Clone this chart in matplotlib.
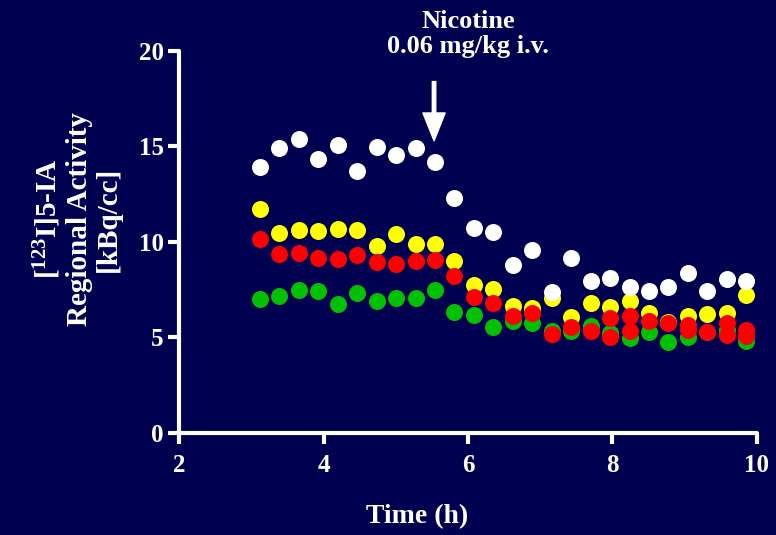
import numpy as np
import matplotlib.pyplot as plt

plt.rcParams['font.family'] = 'Liberation Serif'
plt.rcParams['font.weight'] = 'bold'
plt.rcParams['mathtext.fontset'] = 'custom'
plt.rcParams['mathtext.rm'] = 'Liberation Serif:bold'
plt.rcParams['mathtext.it'] = 'Liberation Serif:bold'
plt.rcParams['mathtext.bf'] = 'Liberation Serif:bold'

# sampling times (h)
time_h = [3.12, 3.39, 3.66, 3.93, 4.20, 4.47, 4.74, 5.01, 5.28, 5.54,
          5.81, 6.08, 6.35, 6.62, 6.89, 7.16, 7.43, 7.70, 7.97, 8.24,
          8.51, 8.77, 9.04, 9.31, 9.58, 9.85]

# regional activity (kBq/cc)
white = [13.9, 14.9, 15.4, 14.35, 15.1, 13.7, 14.95, 14.55, 14.9, 14.2,
         12.3, 10.75, 10.5, 8.8, 9.6, 7.4, 9.15, 7.95, 8.1, 7.65,
         7.45, 7.65, 8.35, 7.45, 8.05, 7.95]
yellow = [11.75, 10.45, 10.65, 10.55, 10.7, 10.65, 9.8, 10.4, 9.9, 9.9,
          9.0, 7.75, 7.55, 6.65, 6.55, 7.05, 6.05, 6.8, 6.6, 6.9,
          6.3, 5.8, 6.15, 6.25, 6.3, 7.25]
red = [10.15, 9.35, 9.4, 9.15, 9.1, 9.3, 8.95, 8.85, 9.0, 9.05,
       8.2, 7.1, 6.8, 6.15, 6.3, 5.2, 5.55, 5.35, 6.0, 6.1,
       5.85, 5.75, 5.65, 5.3, 5.75, 5.4]
red2 = [np.nan] * 18 + [5.05, 5.35, np.nan, np.nan, 5.4, np.nan, 5.15, 5.1]
green = [7.0, 7.15, 7.5, 7.45, 6.75, 7.35, 6.9, 7.05, 7.05, 7.5,
         6.35, 6.2, 5.55, 5.85, 5.75, 5.35, 5.35, 5.6, 5.25, 4.95,
         5.3, 4.75, 5.05, 5.3, 5.4, 4.8]

bg = '#000050'
fig = plt.figure(figsize=(7.76, 5.35), dpi=100, facecolor=bg)
ax = fig.add_axes([0.2307, 0.1907, 0.7448, 0.714])
ax.set_facecolor(bg)

ms = 150
ax.scatter(time_h, green, s=ms, color='#00c000', linewidths=0, zorder=3)
ax.scatter(time_h, yellow, s=ms, color='#ffff00', linewidths=0, zorder=4)
ax.scatter(time_h, red2, s=ms, color='#ff0000', linewidths=0, zorder=5)
ax.scatter(time_h, red, s=ms, color='#ff0000', linewidths=0, zorder=5)
ax.scatter(time_h, white, s=ms, color='white', linewidths=0, zorder=6)

ax.set_xlim(2, 10)
ax.set_ylim(0, 20)
ax.set_xticks([2, 4, 6, 8, 10])
ax.set_yticks([0, 5, 10, 15, 20])
for s in ['top', 'right']:
    ax.spines[s].set_visible(False)
for s in ['left', 'bottom']:
    ax.spines[s].set_color('white')
    ax.spines[s].set_linewidth(3)
    ax.spines[s].set_capstyle('round')
ax.tick_params(colors='white', width=3, length=8, labelsize=18)
ax.tick_params(axis='x', pad=7)
ax.tick_params(axis='y', pad=3)
for lab in ax.get_xticklabels() + ax.get_yticklabels():
    lab.set_fontweight('bold')

# injection arrow
ax.annotate('', xy=(5.53, 15.3), xytext=(5.53, 18.4),
            arrowprops=dict(facecolor='white', edgecolor='white', width=2.5,
                            headwidth=16, headlength=20, shrink=0),
            annotation_clip=False)
fig.text(468 / 776, 1 - 34 / 535, 'Nicotine\n0.06 mg/kg i.v.', color='white',
         fontsize=19, fontweight='bold', ha='center', va='center',
         linespacing=1.13)

fig.text(417 / 776, 1 - 517 / 535, 'Time (h)', color='white', fontsize=20,
         fontweight='bold', ha='center', va='center')
fig.text(77 / 776, 1 - 219 / 535,
         '[$^{123}$I]5-IA\nRegional Activity\n[kBq/cc]', color='white',
         fontsize=21, fontweight='bold', ha='center', va='center',
         rotation=90, multialignment='center', linespacing=1.12)

fig.savefig('out.png', dpi=100, facecolor=bg)
